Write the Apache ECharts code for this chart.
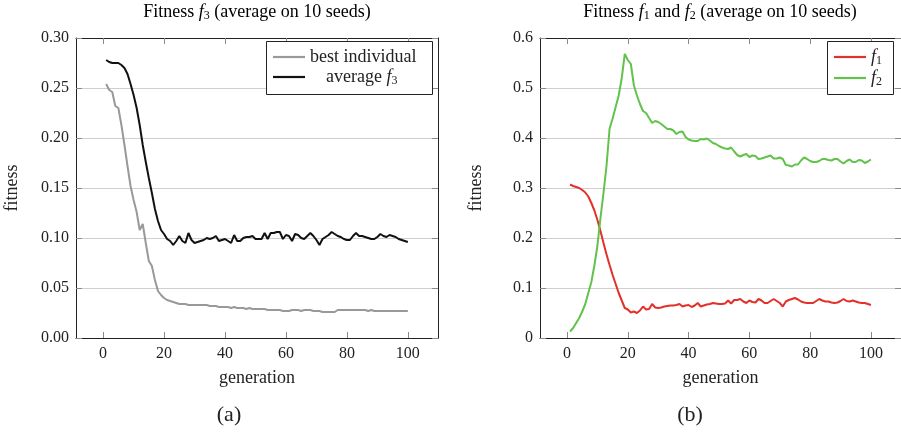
<!DOCTYPE html>
<html>
<head>
<meta charset="utf-8">
<script src="https://cdn.jsdelivr.net/npm/echarts@6/dist/echarts.min.js"></script>
<style>
html,body{margin:0;padding:0;background:#fff;}
#chart{width:901px;height:432px;}
</style>
</head>
<body>
<div id="chart"></div>
<script>
// ---------- data ----------
const generations = Array.from({length: 100}, (_, i) => i + 1);
const xTicks = [0, 20, 40, 60, 80, 100];
const yTicksLeft = [0, 0.05, 0.10, 0.15, 0.20, 0.25, 0.30];
const yTicksRight = [0, 0.1, 0.2, 0.3, 0.4, 0.5, 0.6];

const bestIndividual = [
0.254,0.248,0.246,0.232,0.230,0.213,0.193,0.172,0.152,0.138,
0.126,0.108,0.114,0.095,0.077,0.072,0.058,0.047,0.043,0.040,
0.038,0.037,0.036,0.035,0.034,0.034,0.034,0.033,0.033,0.033,
0.033,0.033,0.033,0.033,0.032,0.032,0.032,0.031,0.031,0.031,
0.031,0.030,0.031,0.030,0.030,0.030,0.029,0.030,0.029,0.029,
0.029,0.029,0.029,0.028,0.028,0.028,0.028,0.028,0.027,0.027,
0.027,0.028,0.028,0.028,0.027,0.028,0.028,0.028,0.027,0.027,
0.027,0.026,0.026,0.026,0.026,0.026,0.028,0.028,0.028,0.028,
0.028,0.028,0.028,0.028,0.028,0.028,0.027,0.028,0.027,0.027,
0.027,0.027,0.027,0.027,0.027,0.027,0.027,0.027,0.027,0.027];

const averageF3 = [
0.278,0.276,0.275,0.275,0.275,0.273,0.270,0.264,0.254,0.243,
0.230,0.213,0.193,0.176,0.160,0.145,0.129,0.117,0.108,0.104,
0.099,0.097,0.093,0.097,0.102,0.097,0.095,0.105,0.098,0.095,
0.096,0.097,0.098,0.100,0.099,0.100,0.102,0.097,0.098,0.099,
0.097,0.095,0.103,0.097,0.097,0.100,0.101,0.101,0.102,0.099,
0.099,0.099,0.105,0.099,0.105,0.105,0.106,0.106,0.099,0.103,
0.102,0.097,0.104,0.103,0.100,0.099,0.102,0.105,0.102,0.098,
0.093,0.099,0.101,0.103,0.106,0.104,0.102,0.101,0.099,0.098,
0.098,0.102,0.105,0.102,0.102,0.101,0.100,0.099,0.099,0.101,
0.104,0.102,0.101,0.103,0.102,0.101,0.099,0.098,0.097,0.096];

const f1 = [
0.307,0.304,0.302,0.300,0.296,0.291,0.283,0.270,0.255,0.236,
0.214,0.190,0.167,0.146,0.126,0.108,0.090,0.075,0.060,0.057,
0.051,0.053,0.050,0.055,0.063,0.057,0.058,0.068,0.061,0.060,
0.061,0.063,0.064,0.065,0.065,0.066,0.068,0.063,0.065,0.066,
0.062,0.065,0.070,0.063,0.065,0.067,0.068,0.070,0.069,0.068,
0.068,0.069,0.075,0.069,0.076,0.076,0.078,0.073,0.070,0.075,
0.072,0.071,0.078,0.075,0.070,0.070,0.074,0.078,0.074,0.070,
0.063,0.073,0.076,0.078,0.080,0.077,0.073,0.071,0.070,0.070,
0.070,0.074,0.078,0.075,0.073,0.073,0.071,0.070,0.071,0.074,
0.078,0.074,0.073,0.075,0.073,0.071,0.070,0.070,0.068,0.066];

const f2 = [
0.013,0.020,0.030,0.040,0.053,0.068,0.090,0.112,0.145,0.185,
0.240,0.290,0.345,0.419,0.439,0.462,0.485,0.520,0.568,0.556,
0.548,0.505,0.485,0.468,0.454,0.450,0.440,0.430,0.434,0.432,
0.428,0.423,0.418,0.418,0.415,0.408,0.412,0.413,0.402,0.397,
0.395,0.394,0.394,0.398,0.397,0.399,0.395,0.390,0.388,0.384,
0.381,0.379,0.378,0.381,0.373,0.366,0.363,0.366,0.368,0.362,
0.365,0.364,0.358,0.359,0.361,0.363,0.365,0.359,0.359,0.361,
0.358,0.346,0.345,0.343,0.347,0.347,0.355,0.361,0.358,0.354,
0.352,0.352,0.354,0.358,0.358,0.356,0.355,0.358,0.358,0.353,
0.349,0.354,0.357,0.352,0.352,0.356,0.355,0.350,0.353,0.357];

// ---------- styling ----------
const FONT = 'Liberation Serif';
const TXT = '#222';
const rich = {
  n: {fontFamily: FONT, fontSize: 18, color: TXT, lineHeight: 20},
  i: {fontFamily: FONT, fontSize: 18, color: TXT, lineHeight: 20, fontStyle: 'italic'},
  s: {fontFamily: FONT, fontSize: 12, color: TXT, lineHeight: 12, verticalAlign: 'bottom'},
  pad: {width: 16}
};

function pairs(vals) { return generations.map((g, k) => [g, vals[k]]); }

const frameLine = {show: true, onZero: false, lineStyle: {color: '#222', width: 1}};
const tickStyle = {show: true, inside: true, length: 6, lineStyle: {color: '#8a8a8a', width: 1}};

function xAxes(gi) {
  return [
    {
      gridIndex: gi, type: 'value', min: -8.9, max: 109.9, position: 'bottom',
      axisLine: frameLine,
      axisTick: Object.assign({customValues: xTicks}, tickStyle),
      axisLabel: {customValues: xTicks, fontFamily: FONT, fontSize: 16, color: TXT, margin: 8},
      splitLine: {show: false},
      name: 'generation', nameLocation: 'middle', nameGap: 31,
      nameTextStyle: {fontFamily: FONT, fontSize: 18, color: TXT}
    },
    {
      gridIndex: gi, type: 'value', min: -8.9, max: 109.9, position: 'top',
      axisLine: frameLine,
      axisTick: Object.assign({customValues: xTicks}, tickStyle),
      axisLabel: {show: false},
      splitLine: {show: false}
    }
  ];
}

function yAxes(gi, ticks, fmt) {
  const mx = ticks[ticks.length - 1];
  const iv = ticks[1];
  return [
    {
      gridIndex: gi, type: 'value', min: 0, max: mx, interval: iv, position: 'left',
      axisLine: frameLine,
      axisTick: tickStyle,
      axisLabel: {formatter: fmt, fontFamily: FONT, fontSize: 16, color: TXT, margin: 7},
      splitLine: {show: true, lineStyle: {color: '#cfcfcf', width: 1}},
      name: 'fitness', nameLocation: 'middle', nameGap: 55,
      nameTextStyle: {fontFamily: FONT, fontSize: 18, color: TXT}
    },
    {
      gridIndex: gi, type: 'value', min: 0, max: mx, interval: iv, position: 'right',
      axisLine: frameLine,
      axisTick: tickStyle,
      axisLabel: {show: false},
      splitLine: {show: false}
    }
  ];
}

const chart = echarts.init(document.getElementById('chart'), null, {renderer: 'canvas'});

const legendCommon = {
  orient: 'vertical', itemWidth: 32, itemHeight: 2.2, itemGap: 2,
  padding: 0, selectedMode: false, z: 20,
  textStyle: {fontFamily: FONT, fontSize: 18, color: TXT, rich: rich}
};

const option = {
  animation: false,
  backgroundColor: '#fff',
  grid: [
    {left: 76, top: 38, width: 362, height: 300},
    {left: 540, top: 38, width: 363, height: 300}
  ],
  xAxis: xAxes(0).concat(xAxes(1)),
  yAxis: yAxes(0, yTicksLeft, v => v.toFixed(2)).concat(
         yAxes(1, yTicksRight, v => (Math.abs(v) < 1e-9 ? '0' : v.toFixed(1)))),
  legend: [
    Object.assign({}, legendCommon, {
      data: [{name: 'best individual', icon: 'rect'}, {name: 'average f3', icon: 'rect'}],
      left: 273, top: 48,
      formatter: name => name === 'average f3'
        ? '{pad|}{n|average }{i|f}{s|3}'
        : '{n|' + name + '}'
    }),
    Object.assign({}, legendCommon, {
      data: [{name: 'f1', icon: 'rect'}, {name: 'f2', icon: 'rect'}],
      left: 834, top: 48,
      formatter: name => '{i|f}{s|' + name.slice(1) + '}'
    })
  ],
  series: [
    {name: 'best individual', type: 'line', xAxisIndex: 0, yAxisIndex: 0,
     data: pairs(bestIndividual), showSymbol: false, symbol: 'none',
     lineStyle: {color: '#999999', width: 2}, itemStyle: {color: '#999999'}, z: 2},
    {name: 'average f3', type: 'line', xAxisIndex: 0, yAxisIndex: 0,
     data: pairs(averageF3), showSymbol: false, symbol: 'none',
     lineStyle: {color: '#111111', width: 2}, itemStyle: {color: '#111111'}, z: 3},
    {name: 'f1', type: 'line', xAxisIndex: 2, yAxisIndex: 2,
     data: pairs(f1), showSymbol: false, symbol: 'none',
     lineStyle: {color: '#e2302a', width: 2}, itemStyle: {color: '#e2302a'}, z: 2},
    {name: 'f2', type: 'line', xAxisIndex: 2, yAxisIndex: 2,
     data: pairs(f2), showSymbol: false, symbol: 'none',
     lineStyle: {color: '#62c24b', width: 2}, itemStyle: {color: '#62c24b'}, z: 3}
  ],
  graphic: [
    {type: 'rect', z: 15, shape: {x: 266.5, y: 41.5, width: 166, height: 53},
     style: {fill: '#fff', stroke: '#222', lineWidth: 1}},
    {type: 'rect', z: 15, shape: {x: 827.5, y: 41.5, width: 66, height: 53},
     style: {fill: '#fff', stroke: '#222', lineWidth: 1}},
    {type: 'text', x: 257, y: 12,
     style: {text: '{n|Fitness }{i|f}{s|3}{n| (average on 10 seeds)}', align: 'center', verticalAlign: 'middle', rich: rich}},
    {type: 'text', x: 720, y: 12,
     style: {text: '{n|Fitness }{i|f}{s|1}{n| and }{i|f}{s|2}{n| (average on 10 seeds)}', align: 'center', verticalAlign: 'middle', rich: rich}},
    {type: 'text', x: 229, y: 415,
     style: {text: '(a)', fontFamily: FONT, fontSize: 22, fill: TXT, align: 'center', verticalAlign: 'middle'}},
    {type: 'text', x: 690, y: 415,
     style: {text: '(b)', fontFamily: FONT, fontSize: 22, fill: TXT, align: 'center', verticalAlign: 'middle'}}
  ]
};
chart.setOption(option);
</script>
</body>
</html>
